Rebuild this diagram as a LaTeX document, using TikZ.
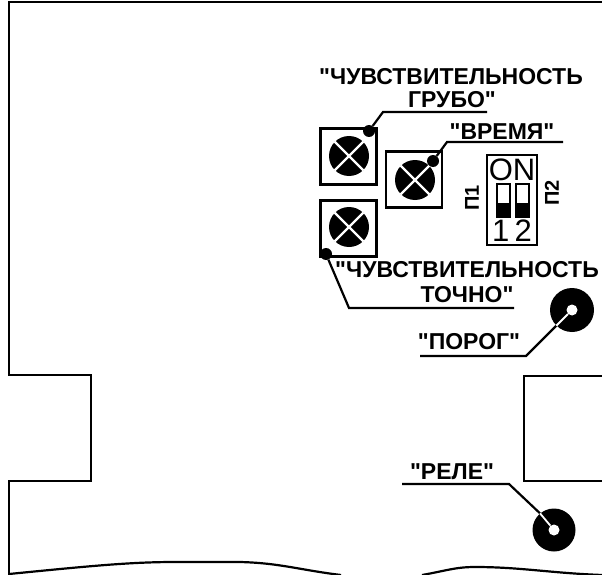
\documentclass[tikz,border=0pt]{standalone}
\usepackage{fontspec}
\setmainfont{Liberation Sans}[Ligatures=TeXOff]
\usetikzlibrary{shapes.geometric}
\tikzset{
    plate/.style = {line width = 2.2pt},
    leader/.style = {line width = 2.2pt},
    trimbox/.style = {draw, line width = 2.2pt, minimum size = 56pt, inner sep = 0pt},
    knob/.style = {circle, fill = black, minimum size = 40pt, inner sep = 0pt},
    dot/.style = {circle, fill = black, minimum size = 12pt, inner sep = 0pt},
    hole/.style = {circle, fill = white, minimum size = 11pt, inner sep = 0pt},
    caption/.style = {font = \fontsize{23}{24}\selectfont\bfseries, inner sep = 0pt},
    digit/.style = {font = \fontsize{31}{31}\selectfont, inner sep = 0pt},
    sw/.style = {draw, line width = 1.6pt, minimum width = 13pt, minimum height = 33pt, inner sep = 0pt}
}
\begin{document}
\begin{tikzpicture}[x = 1pt, y = -1pt]
        \useasboundingbox (0,0) rectangle (602,575);

        % outline of the board
        \draw [plate]
        (602,2) -- (9,2) -- (9,375) -- (91,375) -- (91,481) -- (9,481) -- (9,575);

        \draw [plate]
        (602,376) -- (524,376) -- (524,481) -- (602,481);

        \draw [plate]
        (9,574) .. controls (90,566) and (130,562) .. (175,562) -- (240,562) .. controls (280,563) and (300,570) .. (341,575);

        \draw [plate]
        (422,575) .. controls (445,571) and (455,567) .. (475,567) .. controls (520,567) and (550,573) .. (602,575);

        % trimmers
        \node [trimbox] (box1) at (348.5,156.5) {};
        \node [trimbox] (box2) at (414,179.5) {};
        \node [trimbox] (box3) at (348.5,228.5) {};

        \foreach \n/\x/\y in {knob1/349/156, knob2/415/180, knob3/349/227} {
            \node [knob] (\n) at (\x,\y) {};
            \draw [white, line width = 2.4pt] (\n.north west) -- (\n.south east);
            \draw [white, line width = 2.4pt] (\n.north east) -- (\n.south west);
        }

        \node [dot] (dot1) at (369,131) {};
        \node [dot] (dot2) at (433,161) {};
        \node [dot] (dot3) at (326,254) {};

        \coordinate (bend1) at (383,112);
        \coordinate (end1) at (487,112);
        \coordinate (bend2) at (447,142);
        \coordinate (end2) at (563,142);
        \coordinate (bend3) at (349,308);
        \coordinate (end3) at (514,308);

        \draw [leader] (dot1) -- (bend1) -- (end1);
        \draw [leader] (dot2) -- (bend2) -- (end2);
        \draw [leader] (dot3) -- (bend3) -- (end3);

        % labels
        \node [caption] (sens1) at (451,77) {"ЧУВСТВИТЕЛЬНОСТЬ};
        \node [caption] (rough) at (452,100) {ГРУБО"};
        \node [caption] (time) at (502,132) {"ВРЕМЯ"};
        \node [caption] (sens2) at (467,270) {"ЧУВСТВИТЕЛЬНОСТЬ};
        \node [caption] (fine) at (467,295) {ТОЧНО"};
        \node [caption] (thresh) at (469,342) {"ПОРОГ"};
        \node [caption] (relay) at (452,472) {"РЕЛЕ"};

        % dip switch
        \node [draw, line width = 2.2pt, minimum width = 50pt, minimum height = 90pt, inner sep = 0pt] (dip) at (512,200) {};
        \node [sw] (sw1) at (503.5,200.5) {};
        \node [sw] (sw2) at (522.5,200.5) {};
        \fill (sw1.south west) rectangle ([yshift = -2.5pt]sw1.east);
        \fill (sw2.south west) rectangle ([yshift = -2.5pt]sw2.east);
        \node [digit] (on) at (512,170) {ON};
        \node [digit] (num) at (512,231) {1\,2};
        \node [caption, rotate = 90, font = \fontsize{20}{20}\selectfont\bfseries] (p1) at (472,198) {П1};
        \node [caption, rotate = 90, font = \fontsize{20}{20}\selectfont\bfseries] (p2) at (552,193) {П2};

        % threshold and relay discs
        \node [circle, fill = black, minimum size = 44pt, inner sep = 0pt] (disc1) at (572,310) {};
        \node [circle, fill = black, minimum size = 43pt, inner sep = 0pt] (disc2) at (554,530) {};
        \coordinate (bend4) at (526,356);
        \coordinate (end4) at (420,356);
        \coordinate (bend5) at (509,484);
        \coordinate (end5) at (402,484);
        \node [hole] (hole1) at (572,310) {};
        \node [hole] (hole2) at (554,530) {};
        \draw [leader] (end4) -- (bend4) -- (disc1.225);
        \draw [leader] (end5) -- (bend5) -- (disc2.130);
        \draw [white, line width = 1.8pt] (hole1) -- (disc1.225);
        \draw [white, line width = 1.8pt] (hole2) -- (disc2.130);
    \end{tikzpicture}
\end{document}
